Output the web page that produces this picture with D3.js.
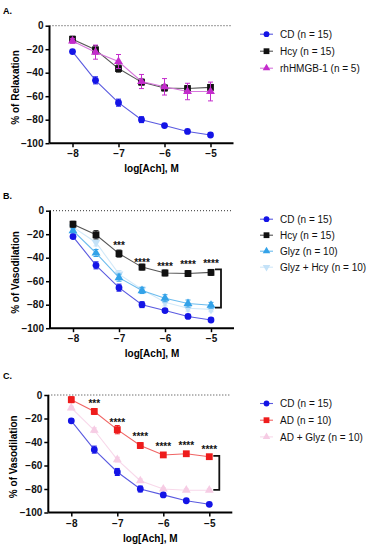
<!DOCTYPE html>
<html><head><meta charset="utf-8">
<script src="https://cdn.jsdelivr.net/npm/d3@7"></script>
<style>body{margin:0;background:#fff}svg{display:block}</style>
</head><body>
<svg id="c" width="372" height="550"></svg>
<script>
// ---- data ----
const doses = [-8, -7.5, -7, -6.5, -6, -5.5, -5];
const xTicks = [-8, -7, -6, -5];
const yTicks = [0, -20, -40, -60, -80, -100];

const cdMean = [-22, -46.5, -65.5, -80, -85, -90, -93];
const cdErr = [1.5, 3, 3, 2.5, 1.5, 1, 1.5];
const hcyMean = [-11.5, -20.5, -36.5, -48, -53, -53.5, -52.5];
const hcyErr = [2.5, 3.5, 3, 2.5, 2.5, 2.5, 2.5];
const hmgbMean = [-13, -22.5, -30.5, -47.5, -52, -56, -56];
const hmgbErr = [2, 6, 6, 6, 7, 7, 8];
const glyzMean = [-17, -36, -57, -68, -74.5, -79, -80.5];
const glyzErr = [2, 3, 3, 2.5, 3, 3, 2.5];
const glyzHcyMean = [-14, -27, -54, -67, -78, -83, -84];
const glyzHcyErr = [2, 3, 3, 2.5, 3, 2.5, 2];
const adMean = [-4, -14, -29.5, -43, -51, -50, -52.5];
const adErr = [2.5, 2.5, 3.5, 2.5, 2, 1.5, 1.5];
const adGlyzMean = [-11, -30, -55, -73, -80, -81, -81];
const adGlyzErr = [1.5, 2, 2, 1.5, 1, 1, 1];

const starsBx = [-7, -6.5, -6, -5.5, -5];
const starsBy = [-28, -42, -45.5, -44, -43];
const starsBt = ["***", "****", "****", "****", "****"];
const starsCx = [-7.5, -7, -6.5, -6, -5.5, -5];
const starsCy = [-5.7, -21.8, -34, -42.5, -41.6, -44.5];
const starsCt = ["***", "****", "****", "****", "****", "****"];
const bracketB = [-50, -82.5];
const bracketC = [-51.8, -80.7];

const S = {
  cd:   {name: "CD (n = 15)", mean: cdMean, err: cdErr, shape: "circle", mc: "#1414e6", lc: "#5a5ae0"},
  hcy:  {name: "Hcy (n = 15)", mean: hcyMean, err: hcyErr, shape: "square", mc: "#111111", lc: "#555555"},
  hmgb: {name: "rhHMGB-1 (n = 5)", mean: hmgbMean, err: hmgbErr, shape: "tri", mc: "#c42ccc", lc: "#d676dc"},
  glyz: {name: "Glyz (n = 10)", mean: glyzMean, err: glyzErr, shape: "tri", mc: "#33a2e8", lc: "#6cbcee"},
  gh:   {name: "Glyz + Hcy (n = 10)", mean: glyzHcyMean, err: glyzHcyErr, shape: "tridown", mc: "#c4e2f8", lc: "#d2e9f9"},
  ad:   {name: "AD (n = 10)", mean: adMean, err: adErr, shape: "square", mc: "#ee1c1c", lc: "#f06464"},
  adg:  {name: "AD + Glyz (n = 10)", mean: adGlyzMean, err: adGlyzErr, shape: "tri", mc: "#f6cce4", lc: "#f8d8ea"}
};

const panels = [
  {label: "A.", left: 49.5, y0: 25.7, ytitle: "% of Relaxation", ytx: 15, labY: 10,
   draw: ["cd", "hcy", "hmgb"], legend: ["cd", "hcy", "hmgb"], legStep: 17},
  {label: "B.", left: 50, y0: 210.7, ytitle: "% of Vasodilation", ytx: 15, labY: 195,
   draw: ["gh", "glyz", "cd", "hcy"], legend: ["cd", "hcy", "glyz", "gh"], legStep: 16,
   stars: [starsBx, starsBy, starsBt], bracket: bracketB},
  {label: "C.", left: 48.3, y0: 395, ytitle: "% of Vasodilation", ytx: 13.5, labY: 375,
   draw: ["adg", "cd", "ad"], legend: ["cd", "ad", "adg"], legStep: 16.7,
   stars: [starsCx, starsCy, starsCt], bracket: bracketC}
];

const svg = d3.select("#c");
const font = "Liberation Sans, Arial, Helvetica, sans-serif";

function marker(g, shape, cx, cy, col, sz) {
  const s = sz || 1;
  if (shape === "circle") g.append("circle").attr("cx", cx).attr("cy", cy).attr("r", 3.4 * s).attr("fill", col);
  else if (shape === "square") g.append("rect").attr("x", cx - 3.4 * s).attr("y", cy - 3.4 * s).attr("width", 6.8 * s).attr("height", 6.8 * s).attr("fill", col);
  else {
    const sym = d3.symbol().type(d3.symbolTriangle).size(34 * s * s);
    g.append("path").attr("d", sym()).attr("fill", col)
      .attr("transform", `translate(${cx},${cy})` + (shape === "tridown" ? " rotate(180)" : ""));
  }
}

panels.forEach(p => {
  const x = d3.scaleLinear().domain([-8.5, -4.5]).range([p.left, p.left + 184]);
  const y = d3.scaleLinear().domain([0, -100]).range([p.y0, p.y0 + 117.5]);
  const g = svg.append("g");

  g.append("text").attr("x", 3).attr("y", p.labY + 3.5).text(p.label)
    .attr("font-family", font).attr("font-size", 9).attr("font-weight", "bold");

  // zero dotted line
  g.append("line").attr("x1", x(-8.5)).attr("x2", x(-4.55)).attr("y1", y(0)).attr("y2", y(0))
    .attr("stroke", "#333").attr("stroke-width", 1).attr("stroke-dasharray", "1,2");

  // y axis
  const ya = g.append("g").attr("transform", `translate(${x(-8.5)},0)`)
    .call(d3.axisLeft(y).tickValues(yTicks).tickSize(4).tickPadding(2).tickFormat(d3.format("d")));
  ya.select(".domain").attr("stroke-width", 2).attr("d", `M0,${y(0)}V${y(-100)}`);
  ya.selectAll(".tick line").attr("stroke-width", 1.5);
  ya.selectAll("text").attr("font-family", font).attr("font-size", 10).attr("font-weight", "bold").attr("fill", "#111");

  // x axis
  const xa = g.append("g").attr("transform", `translate(0,${y(-100)})`)
    .call(d3.axisBottom(x).tickValues(xTicks).tickSize(4).tickPadding(3).tickFormat(d3.format("d")));
  xa.select(".domain").attr("stroke-width", 2).attr("d", `M${x(-8.5)},0H${x(-4.5)}`);
  xa.selectAll(".tick line").attr("stroke-width", 1.5);
  xa.selectAll("text").attr("font-family", font).attr("font-size", 10).attr("font-weight", "bold").attr("fill", "#111");

  g.append("text").attr("x", (x(-8.5) + x(-4.5)) / 2 + 10).attr("y", y(-100) + 29).attr("text-anchor", "middle")
    .text("log[Ach], M").attr("font-family", font).attr("font-size", 10).attr("font-weight", "bold");
  g.append("text").attr("transform", `translate(${p.ytx + 3.5},${(y(0) + y(-100)) / 2 + 3}) rotate(-90)`)
    .attr("text-anchor", "middle").text(p.ytitle)
    .attr("font-family", font).attr("font-size", 10).attr("font-weight", "bold");

  // series
  p.draw.forEach(k => {
    const s = S[k];
    const pts = doses.map((d, i) => [d, s.mean[i], s.err[i]]);
    g.append("path").attr("d", d3.line().x(d => x(d[0])).y(d => y(d[1]))(pts))
      .attr("fill", "none").attr("stroke", s.lc).attr("stroke-width", 1.1);
    pts.forEach(d => {
      const cx = x(d[0]);
      g.append("path").attr("d", `M${cx},${y(d[1] + d[2])}V${y(d[1] - d[2])}M${cx - 2.5},${y(d[1] + d[2])}H${cx + 2.5}M${cx - 2.5},${y(d[1] - d[2])}H${cx + 2.5}`)
        .attr("stroke", s.mc).attr("stroke-width", 1).attr("fill", "none");
      marker(g, s.shape, cx, y(d[1]), s.mc);
    });
  });

  // stars
  if (p.stars) {
    const [sx, sy, st] = p.stars;
    sx.forEach((d, i) => {
      g.append("text").attr("x", x(d)).attr("y", y(sy[i]) + 5.5).attr("text-anchor", "middle")
        .text(st[i]).attr("font-family", font).attr("font-size", 10).attr("font-weight", "bold").attr("fill", "#111");
    });
  }
  if (p.bracket) {
    const bx = x(-5) + 10;
    g.append("path").attr("d", `M${bx - 6},${y(p.bracket[0])}H${bx}V${y(p.bracket[1])}H${bx - 6}`)
      .attr("fill", "none").attr("stroke", "#111").attr("stroke-width", 1.8);
  }

  // legend
  p.legend.forEach((k, i) => {
    const s = S[k];
    const ly = p.y0 + 8.5 + i * p.legStep;
    g.append("line").attr("x1", 260).attr("x2", 273).attr("y1", ly).attr("y2", ly).attr("stroke", s.lc).attr("stroke-width", 1.1);
    marker(g, s.shape, 266.5, ly, s.mc, 0.85);
    g.append("text").attr("x", 280).attr("y", ly + 3.6).text(s.name)
      .attr("font-family", font).attr("font-size", 10).attr("fill", "#111");
  });
});
</script>
</body></html>
